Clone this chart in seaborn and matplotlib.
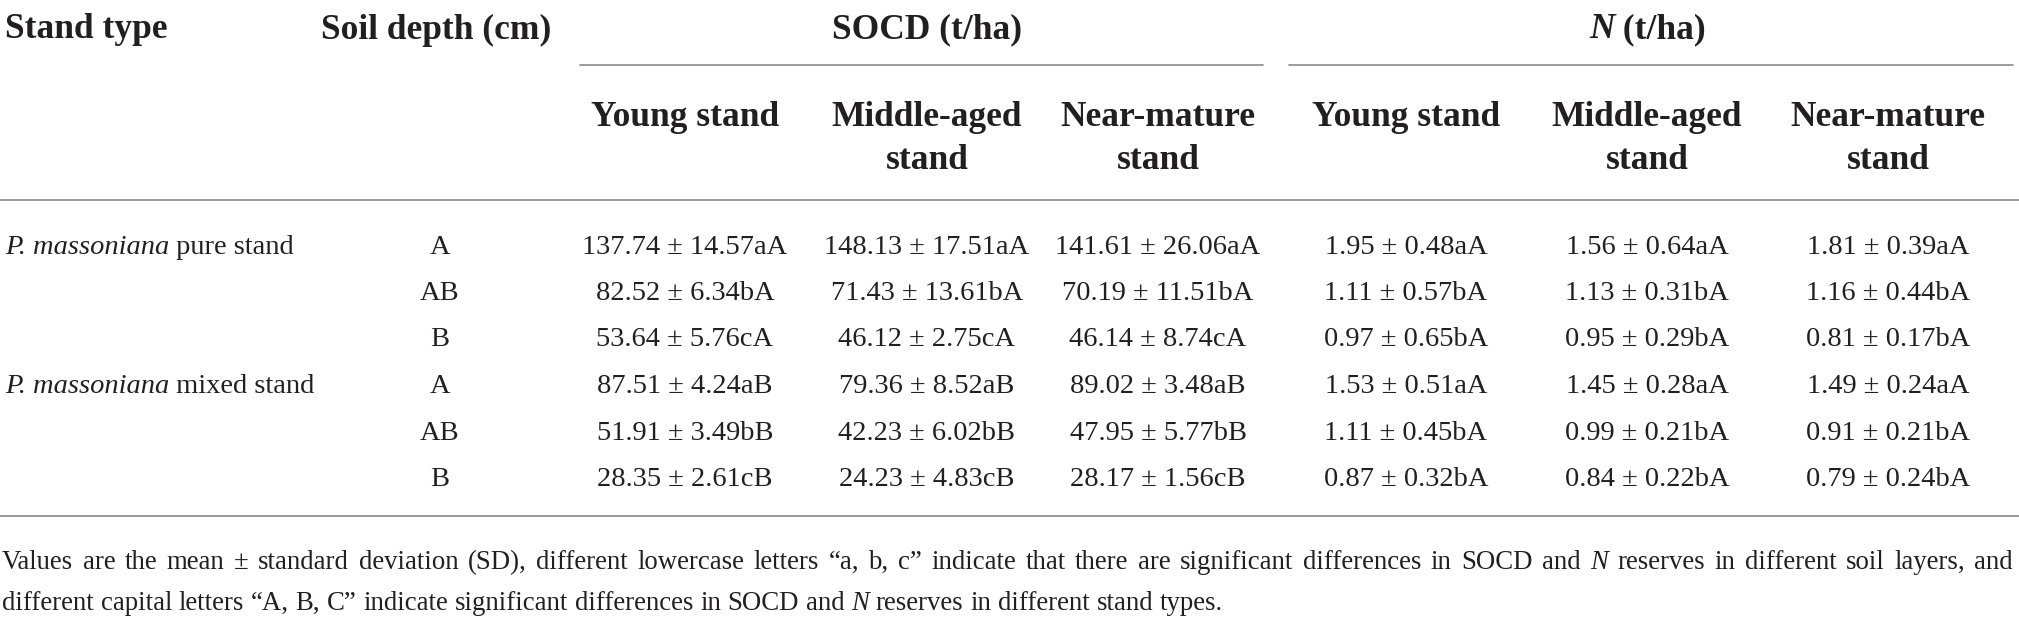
import matplotlib
matplotlib.use("Agg")
import matplotlib.pyplot as plt
import seaborn as sns

# === DATA ===
stand_types = ["P. massoniana pure stand", "P. massoniana mixed stand"]
depths = ["A", "AB", "B"]
ages = ["Young stand", "Middle-aged\nstand", "Near-mature\nstand"]

socd_young_mean = [137.74, 82.52, 53.64, 87.51, 51.91, 28.35]
socd_young_sd = [14.57, 6.34, 5.76, 4.24, 3.49, 2.61]
socd_mid_mean = [148.13, 71.43, 46.12, 79.36, 42.23, 24.23]
socd_mid_sd = [17.51, 13.61, 2.75, 8.52, 6.02, 4.83]
socd_near_mean = [141.61, 70.19, 46.14, 89.02, 47.95, 28.17]
socd_near_sd = [26.06, 11.51, 8.74, 3.48, 5.77, 1.56]
socd_sig = ["aA", "bA", "cA", "aB", "bB", "cB"]

n_young_mean = [1.95, 1.11, 0.97, 1.53, 1.11, 0.87]
n_young_sd = [0.48, 0.57, 0.65, 0.51, 0.45, 0.32]
n_mid_mean = [1.56, 1.13, 0.95, 1.45, 0.99, 0.84]
n_mid_sd = [0.64, 0.31, 0.29, 0.28, 0.21, 0.22]
n_near_mean = [1.81, 1.16, 0.81, 1.49, 0.91, 0.79]
n_near_sd = [0.39, 0.44, 0.17, 0.24, 0.21, 0.24]
n_sig = ["aA", "bA", "bA", "aA", "bA", "bA"]

columns = [
    (socd_young_mean, socd_young_sd, socd_sig),
    (socd_mid_mean, socd_mid_sd, socd_sig),
    (socd_near_mean, socd_near_sd, socd_sig),
    (n_young_mean, n_young_sd, n_sig),
    (n_mid_mean, n_mid_sd, n_sig),
    (n_near_mean, n_near_sd, n_sig),
]

note_1 = ("Values are the mean \u00b1 standard deviation (SD), different lowercase letters "
          "\u201ca, b, c\u201d indicate that there are significant differences in SOCD and "
          "*N* reserves in different soil layers, and")
note_2 = ("different capital letters \u201cA, B, C\u201d indicate significant differences "
          "in SOCD and *N* reserves in different stand types.")

# === LAYOUT (pixel space) ===
W, H = 2019, 634
COL_X = [685, 927, 1158, 1406, 1647, 1888]
DEPTH_X = 440
ROW_Y = [247, 293.5, 340, 386.5, 433, 479.5]
INK = "#231f20"
RULE = "#8a8a8a"
HEAD_FS = 25.5
BODY_FS = 20.5
NOTE_FS = 19.3

sns.set_theme(style="white")
plt.rcParams["font.family"] = ["Liberation Serif", "DejaVu Serif"]

fig = plt.figure(figsize=(W / 100, H / 100), dpi=100)
ax = fig.add_axes([0, 0, 1, 1])
ax.set_xlim(0, W)
ax.set_ylim(H, 0)
ax.axis("off")
renderer = fig.canvas.get_renderer()


def rich(x, y, parts, fs, weight="normal", ha="left"):
    # chain text pieces so italic words sit inline
    t = ax.text(x, y, parts[0][0], fontstyle=parts[0][1], fontsize=fs,
                fontweight=weight, color=INK, va="center", ha=ha)
    for s, st in parts[1:]:
        t = ax.annotate(s, xy=(1, 0.5), xycoords=t, fontstyle=st, fontsize=fs,
                        fontweight=weight, color=INK, va="center", ha="left")
    return t


def note_line(text, x0, y, fs, right=None):
    # words marked *like this* are italic; justify to `right` if given
    words = text.split(" ")
    arts = []
    for w in words:
        style = "normal"
        if w.startswith("*") and w.endswith("*"):
            w, style = w.strip("*"), "italic"
        arts.append(ax.text(0, y, w, fontsize=fs, fontstyle=style, color=INK,
                            va="baseline", ha="left"))
    widths = [a.get_window_extent(renderer).width for a in arts]
    t1 = ax.text(0, y, "a a", fontsize=fs)
    t2 = ax.text(0, y, "aa", fontsize=fs)
    space = t1.get_window_extent(renderer).width - t2.get_window_extent(renderer).width
    t1.remove()
    t2.remove()
    if right is not None:
        space = (right - x0 - sum(widths)) / (len(words) - 1)
    x = x0
    for a, w in zip(arts, widths):
        a.set_x(x)
        x += w + space


# header row
ax.text(5, 30, "Stand type", fontsize=HEAD_FS, fontweight="bold", color=INK, va="center")
ax.text(321, 30, "Soil depth (cm)", fontsize=HEAD_FS, fontweight="bold", color=INK, va="center")
ax.text(COL_X[1], 30, "SOCD (t/ha)", fontsize=HEAD_FS, fontweight="bold", color=INK,
        va="center", ha="center")
rich(1589, 30, [("N", "italic"), (" (t/ha)", "normal")], HEAD_FS, weight="bold")

ax.plot([580, 1263], [65, 65], color=RULE, lw=1.2)
ax.plot([1289, 2013], [65, 65], color=RULE, lw=1.2)

for i, x in enumerate(COL_X):
    lab = ages[i % 3]
    if "\n" in lab:
        ax.text(x, 139, lab, fontsize=HEAD_FS, fontweight="bold", color=INK,
                ha="center", va="center", linespacing=1.4)
    else:
        ax.text(x, 117, lab, fontsize=HEAD_FS, fontweight="bold", color=INK,
                ha="center", va="center")

ax.plot([0, W], [200, 200], color=RULE, lw=1.2)
ax.plot([0, W], [516, 516], color=RULE, lw=1.2)

# body
for k, name in enumerate(stand_types):
    genus, rest = name.split(" ", 1)
    species, kind = rest.split(" ", 1)
    rich(5, ROW_Y[k * 3], [(genus + " " + species, "italic"), (" " + kind, "normal")], BODY_FS)

for r, y in enumerate(ROW_Y):
    ax.text(DEPTH_X, y, depths[r % 3], fontsize=BODY_FS, color=INK, ha="center", va="center")
    for c, (mean, sd, sig) in enumerate(columns):
        ax.text(COL_X[c], y, f"{mean[r]:.2f} \u00b1 {sd[r]:.2f}{sig[r]}", fontsize=BODY_FS,
                color=INK, ha="center", va="center")

# footnote (first line justified)
note_line(note_1, 2, 569, NOTE_FS, right=2013)
note_line(note_2, 2, 610, NOTE_FS)

fig.savefig("out.png", dpi=100, facecolor="white")
plt.close(fig)
